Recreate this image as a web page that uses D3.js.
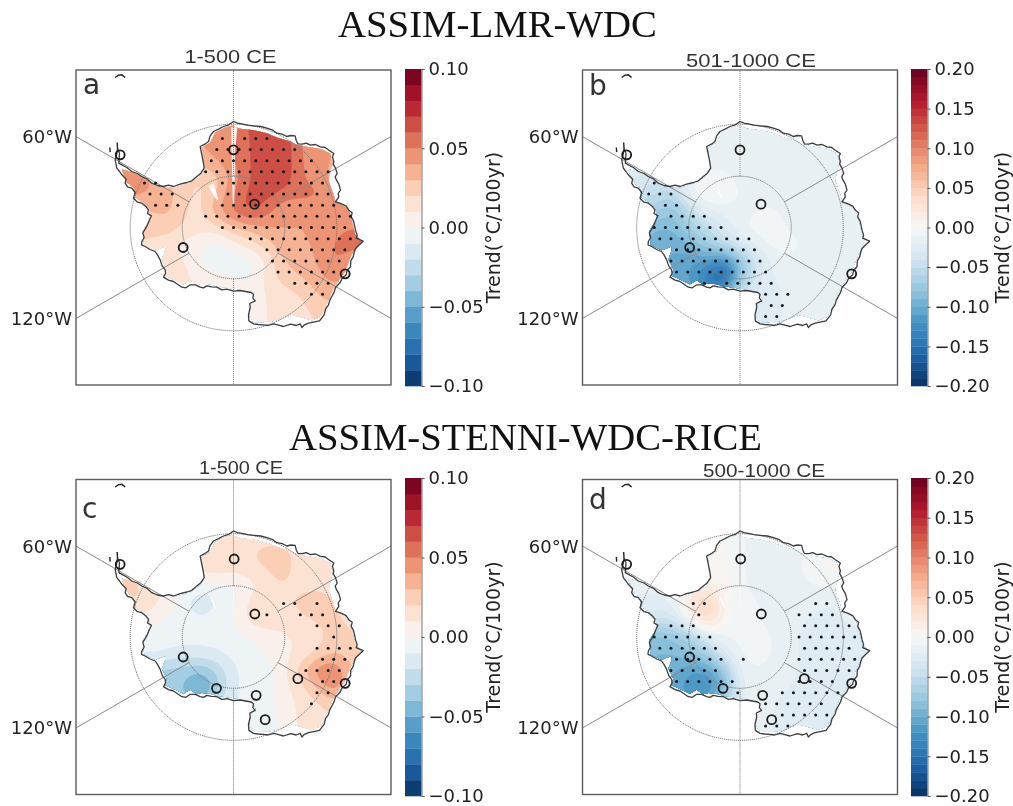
<!DOCTYPE html>
<meta charset="utf-8">
<style>
  body { margin: 0; background: #fff; }
  svg { display: block; filter: blur(0.35px); }
</style>
<body>
<script src="https://d3js.org/d3.v7.min.js" charset="utf-8"></script>
<script>
// map units: 1 unit = 1/3 px, origin at the south pole, y grows downward
var coast = [[0,-318],[12,-313],[25,-311],[42,-307],[60,-305],[82,-303],[100,-298],[118,-292],[130,-283],[146,-280],[160,-273],[172,-276],[185,-275],[188,-262],[193,-251],[206,-250],[218,-253],[231,-247],[246,-249],[261,-242],[275,-240],[286,-232],[301,-222],[297,-212],[301,-198],[299,-190],[306,-178],[311,-162],[305,-152],[309,-142],[316,-130],[321,-112],[314,-102],[316,-92],[306,-77],[316,-74],[326,-70],[338,-64],[346,-52],[356,-44],[353,-32],[360,-20],[363,-7],[366,8],[371,23],[368,32],[389,41],[381,49],[376,53],[366,63],[362,75],[359,88],[352,100],[351,118],[341,128],[338,142],[326,152],[320,165],[306,180],[302,194],[295,207],[289,218],[285,232],[276,245],[272,262],[258,280],[240,284],[225,287],[213,292],[205,300],[200,289],[188,294],[172,290],[150,297],[135,293],[120,289],[104,294],[90,292],[74,291],[60,289],[46,280],[45,262],[50,240],[49,228],[65,220],[58,212],[60,200],[53,195],[36,192],[20,189],[0,191],[-20,185],[-35,187],[-50,179],[-66,178],[-80,175],[-90,181],[-100,179],[-115,172],[-130,172],[-143,181],[-155,179],[-168,170],[-180,162],[-195,158],[-210,149],[-204,138],[-205,127],[-214,115],[-220,97],[-228,82],[-235,72],[-250,66],[-265,57],[-276,52],[-275,42],[-268,30],[-272,16],[-265,5],[-258,-8],[-252,-23],[-246,-35],[-258,-42],[-255,-53],[-262,-62],[-275,-73],[-288,-76],[-300,-88],[-295,-105],[-305,-118],[-318,-122],[-325,-133],[-322,-145],[-335,-158],[-342,-168],[-350,-178],[-355,-203],[-350,-222],[-348,-238],[-342,-223],[-344,-193],[-335,-188],[-320,-180],[-305,-168],[-288,-162],[-275,-153],[-258,-145],[-245,-133],[-228,-126],[-210,-123],[-195,-127],[-180,-123],[-160,-130],[-140,-135],[-125,-140],[-110,-153],[-98,-163],[-88,-178],[-91,-198],[-95,-218],[-100,-243],[-86,-250],[-75,-258],[-70,-275],[-60,-288],[-45,-295],[-30,-303],[-14,-308]];
var dataEdge = [[-5,-305],[20,-296],[60,-292],[100,-283],[130,-270],[170,-258],[185,-250],[215,-243],[265,-235],[290,-222],[298,-195],[290,-165],[285,-140],[300,-100],[305,-80],[345,-55],[355,-20],[365,20],[385,42],[372,57],[355,80],[345,105],[335,132],[315,160],[300,182],[290,207],[275,240],[262,268],[235,278],[205,270],[175,262],[140,275],[110,283],[60,285],[48,265],[53,232],[68,217],[58,195],[20,186],[-50,176],[-70,170],[-95,168],[-110,172],[-130,158],[-150,170],[-175,158],[-205,145],[-200,125],[-215,95],[-205,70],[-205,57],[-235,68],[-268,52],[-272,10],[-250,-25],[-252,-55],[-272,-75],[-295,-90],[-300,-120],[-320,-135],[-330,-160],[-335,-175],[-300,-165],[-270,-150],[-240,-130],[-205,-120],[-175,-120],[-135,-132],[-105,-150],[-85,-175],[-92,-215],[-95,-240],[-70,-255],[-55,-285],[-25,-300]];
var islands = [[[-355,-450],[-345,-457],[-335,-458],[-325,-450]],[[-371,-240],[-370,-226]],[[-348,-238],[-349,-255]]];

var sitesTop = [[-340,-218],[0,-233],[63,-70],[-151,60],[335,139]];
var sitesBottom = [[-340,-218],[2,-234],[64,-69],[-151,60],[335,139],[193,125],[68,175],[95,248],[-51,154]];

// trend grids, hundredths of a degC per 100 yr
// columns x = -400..450 step 50, rows y = -350..350 step 50
var trendA = [
[3,3,3,3,3,3,4,4,4.5,6.5,6.5,6.5,5,4,4,4,3,3],
[3,3,3,3,3,3,4,4,4.5,6.5,6.5,6.5,5,4,4,4,3,3],
[3,3,3,3,3,4,4,4.5,5,6,7,7,5,4,4,4,3,3],
[4,4,3,3,3,3,3.5,4,5,6,7,7,5,4.5,4,3,3,3],
[5,5,5.5,4,3,2,2,2.5,4.5,6,7,7,5,4.5,3.5,3,3,3],
[4,4,4,4,3.5,2.5,1.5,3,5,6.5,6.5,5.5,5.5,5.5,4,4,3,3],
[3,3,3,3,3.5,2,1.5,4,5.5,6.5,5.5,4,4,4,4,4,4,4],
[2,2,2,2,2.5,2,1.5,1.5,3,3.5,4,4,4,4,4.5,5,5,5],
[2,2,2,2,1.5,.5,0,-.5,.5,1.5,2.5,4,4,4,5,6,5,5],
[2,2,2,2,2,1,0,-1,-.5,-.5,1,3,3.5,4,5.5,4,4,4],
[2,2,2,1.5,1.5,1.5,.5,.5,0,-.5,1.5,2.5,3,3.5,4.5,4,4,4],
[1,1,1,1,1,1,1,1,.5,.5,1,1.5,2,3,3.5,3,3,3],
[1,1,1,1,1,1,1,1,1,1,1,1,1.5,2.5,2.5,2,2,2],
[1,1,1,1,1,1,1,1,1,1,1,1,1,2,2,2,2,2],
[1,1,1,1,1,1,1,1,1,1,1,1,1,2,2,2,2,2]];
var trendB = [
[-1.5,-1.5,-1.5,-1.5,-1.5,-1.5,-1.5,-1.5,-1.5,-1.5,-1.5,-1.5,-1.5,-1.5,-1.5,-1.5,-1.5,-1.5],
[-1.5,-1.5,-1.5,-1.5,-1.5,-1.5,-1.5,-1.5,-1.5,-1.5,-1.5,-1.5,-1.5,-1.5,-1.5,-1.5,-1.5,-1.5],
[-1.5,-1.5,-1.5,-1.5,-1.5,-1.5,-2,-2,-1.5,-1.5,-1.5,-1.5,-1.5,-1.5,-1.5,-1.5,-1.5,-1.5],
[-2,-2,-2,-2,-2,-1.5,-1.5,-1.5,-1.5,-1.5,-1.5,-1.5,-1.5,-1.5,-1.5,-1.5,-1.5,-1.5],
[-3,-3,-3,-4,-3,-1,-.5,-.5,-1.5,-1.5,-1.5,-1.5,-1.5,-1.5,-1.5,-1.5,-1.5,-1.5],
[-4,-4,-4,-5,-6,-1,.5,0,-1,-1.5,-1.5,-1.5,-1.5,-1.5,-1.5,-1.5,-1.5,-1.5],
[-6,-6,-6,-7,-8,-5,-2,-1.5,-1.5,-1,-.7,-1.5,-1.5,-1.5,-1.5,-1.5,-1.5,-1.5],
[-8,-8,-8,-9,-9,-7,-5,-3,-1,-.5,-.5,-1.2,-1.5,-1.5,-1.5,-1.5,-1.5,-1.5],
[-9,-9,-9,-10,-10,-9,-7,-5,-3,-1.5,-.5,-.5,-1.2,-1.5,-1.5,-1.5,-1.5,-1.5],
[-10,-10,-10,-10,-10,-11,-11,-13,-8,-4,-1.5,-1.2,-1.5,-1.5,-1.5,-1.5,-1.5,-1.5],
[-9,-9,-9,-9,-10,-11,-14,-18,-8,-3,-2,-1.5,-1.5,-1.5,-1.5,-1.5,-1.5,-1.5],
[-9,-9,-9,-9,-10,-10,-12,-10,-3,-3,-2.5,-1.5,-1.5,-1.5,-1.5,-1.5,-1.5,-1.5],
[-8,-8,-8,-8,-8,-8,-8,-5,-3,-3,-2.5,-1.5,-1.5,-1.5,-1.5,-1.5,-1.5,-1.5],
[-5,-5,-5,-5,-5,-5,-5,-4,-3,-3,-2.5,-1.5,-1.5,-1.5,-1.5,-1.5,-1.5,-1.5],
[-5,-5,-5,-5,-5,-5,-5,-4,-3,-3,-2.5,-1.5,-1.5,-1.5,-1.5,-1.5,-1.5,-1.5]];
var trendC = [
[1.5,1.5,1.5,1.5,1.5,1.5,1.5,1.5,1.5,1.5,1.5,1.5,1.5,1.5,1.5,1.5,1.5,1.5],
[1.5,1.5,1.5,1.5,1.5,1.5,1.5,1.5,1.5,1.5,1.5,1.5,1.5,1.5,1.5,1.5,1.5,1.5],
[1.5,1.5,1.5,1.5,1.5,1.5,1.5,1.7,1.5,2,2.5,2.5,1.5,1.5,1.5,1.5,1.5,1.5],
[2,2,1.5,1.5,1.5,1.5,1.3,1.7,1.3,1.5,2,2.5,1.5,1.5,1.5,1.5,1.5,1.5],
[2.5,2.5,2.5,1.5,1,0,-.5,-.5,-.5,.5,1.5,2,1.5,1.5,1.5,1.5,1.5,1.5],
[2,2,2,1.5,.5,-.5,-2.5,-.8,-.3,1.5,2,1.5,2.5,3.5,2,1.5,1.5,1.5],
[.5,.5,.5,.5,-.3,-.3,-.5,-.5,0,1.5,1.5,1,1.5,2,2.5,1.5,1,1],
[-.5,-.5,-.5,-.5,-.5,-.5,-.7,-.7,-.5,0,.7,1,1,1.5,2.5,2.5,2,2],
[-1,-1,-1,-.7,-1,-1.5,-1.2,-1,-.7,-.5,0,.7,1.2,2,3,2.5,2,2],
[-2.5,-2.5,-2.5,-3,-3.5,-3.5,-4,-3,-1,-.7,-.5,.7,2.5,5,5.5,3,3,3],
[-3.5,-3.5,-3.5,-3.5,-3.5,-4,-6,-3.5,-1,-.7,-.5,.7,1.5,3,5,3,3,3],
[-3.5,-3.5,-3.5,-3.5,-3.5,-3.5,-4,-2,-1,-.7,-.5,.5,1.2,1.7,2.5,2,2,2],
[-1,-1,-1,-1,-1,-1,-1,-1,-1,-.7,-.5,.3,1.2,1.7,1.7,1.5,1.5,1.5],
[-.5,-.5,-.5,-.5,-.5,-.5,-.5,-.5,-.5,-.5,-.5,.3,1.2,1.7,1.7,1.5,1.5,1.5],
[-.5,-.5,-.5,-.5,-.5,-.5,-.5,-.5,-.5,-.5,-.5,.3,1.2,1.7,1.7,1.5,1.5,1.5]];
var trendD = [
[-.5,-.5,-.5,-.5,-.5,-.5,0,.3,-1,-1.2,-1.2,-1.2,-1,0,.3,.3,.3,.3],
[-.5,-.5,-.5,-.5,-.5,-.5,0,.3,-1,-1.2,-1.2,-1.2,-1,0,.3,.3,.3,.3],
[-.5,-.5,-.5,-.5,-.5,-.5,0,.3,-1,-1.2,-1.2,-1.2,-1,0,.3,.3,.3,.3],
[-1,-1,-1,-1,-.5,0,.5,.7,-1,-1.2,-1.2,-1.2,-1,.3,.3,.3,.3,.3],
[-1.5,-1.5,-1.5,-2,-1,2.5,1,.7,-1,-1.2,-1.2,-1.2,-1.2,-1,-1,-1,-1,-1],
[-2,-2,-2,-2.5,-2,2.5,5.5,1,-.5,-1,-1.2,-1.2,-1.5,-2,-2,-2,-2,-2],
[-3,-3,-3,-4,-4,0,4.5,.5,-.5,-1,-1.2,-1.5,-2,-2.5,-2,-1.5,-1.5,-1.5],
[-8,-8,-8,-9,-8,-7,-3,-1,-.7,-.7,-1,-1.5,-2.5,-2.5,-2.5,-2.5,-2.5,-2.5],
[-9,-9,-9,-9,-9,-8,-7,-3,-.7,-.7,-1,-1.5,-2.5,-2.5,-2.5,-2.5,-2.5,-2.5],
[-9,-9,-9,-9,-10,-11,-11,-8,-1.5,-1,-1.2,-1.5,-2.5,-2.5,-3,-3,-3,-3],
[-10,-10,-10,-10,-10,-12,-13,-10,-2,-1.2,-1.5,-2,-2.5,-2.5,-2.5,-2.5,-2.5,-2.5],
[-10,-10,-10,-10,-10,-11,-10,-6,-1.5,-1.5,-2,-2.5,-2.5,-2.5,-2,-2,-2,-2],
[-8,-8,-8,-8,-8,-8,-8,-4,-1.5,-1.5,-2,-2.5,-2,-2,-2,-2,-2,-2],
[-5,-5,-5,-5,-5,-5,-5,-3,-1.5,-1.5,-2,-2.5,-2,-2,-2,-2,-2,-2],
[-5,-5,-5,-5,-5,-5,-5,-3,-1.5,-1.5,-2,-2.5,-2,-2,-2,-2,-2,-2]];

// significant cells as runs: [row, first column, last column]
var stippleA = [[-8,-1,-1],[-8,1,3],[-7,-2,5],[-6,-2,7],[-5,-3,8],[-4,-8,-7],[-4,-1,8],[-3,-8,-6],[-3,-1,8],[-2,-7,-5],[-2,-1,9],[-1,-3,10],[0,-1,10],[1,1,10],[2,3,10],[3,3,9],[4,4,9],[5,5,8],[6,7,8]];
var stippleB = [[-4,-8,-8],[-3,-9,-7],[-2,-7,-6],[-1,-7,-4],[0,-8,-2],[1,-8,0],[2,-6,1],[3,-7,1],[4,-6,2],[5,-4,-4],[5,-2,2],[6,2,4],[7,2,3],[8,2,3]];
var stippleC = [[-3,4,5],[-3,7,7],[-2,3,3],[-2,6,8],[-1,7,9],[0,9,9],[1,7,10],[2,8,10],[3,6,9],[4,8,9],[5,7,8],[6,7,7]];
var stippleD = [[-3,-5,-4],[-3,6,7],[-2,-4,-4],[-2,5,8],[-1,-7,-5],[-1,5,9],[0,-8,-3],[0,5,10],[1,-8,-3],[1,5,9],[2,-6,-2],[2,0,0],[2,5,10],[3,-7,-3],[3,5,9],[4,-6,-1],[4,5,8],[5,-1,-1],[5,3,8],[6,2,7],[7,3,7],[8,2,4]];

var seamsA = [[[-7,-301],[12,-301],[5,-233],[2,-63],[-2,-63],[-6,-233]],[[-75,-123],[-60,-133],[-45,-85],[-50,-81]]];
var seamsB = [[[-2,-297],[3,-297],[1,-162],[-1,-162]],[[-70,-118],[-66,-120],[-52,-85],[-55,-84]]];
var seamsC = [[[-1,-153],[2,-153],[1,-75],[0,-75]],[[-70,-118],[-66,-120],[-52,-85],[-55,-84]]];
var seamsD = [[[-3,-297],[3,-297],[1,-280],[-1,-280]],[[-1,-160],[2,-160],[1,-90],[0,-90]],[[-62,-120],[-56,-122],[-45,-90],[-49,-88]]];

var ringLats = [-70, -80];
var meridians = [0, 60, 120, 180, -120, -60];
var lonLabels = [["60°W", -60], ["120°W", -120]];

var panels = [
  {id: "a", sub: "1-500 CE", trend: trendA, stipple: stippleA, sites: sitesTop, seams: seamsA, max: 10, left: 76, top: 70, cbTop: 69, cbBottom: 386, cbLeft: 405, subX: 230.5, subY: 63, subW: 92, lblX: 83, lblY: 94, shift: 0, cbLabelX: 493},
  {id: "b", sub: "501-1000 CE", trend: trendB, stipple: stippleB, sites: sitesTop, seams: seamsB, max: 20, left: 582.5, top: 70, cbTop: 69, cbBottom: 386, cbLeft: 911, subX: 751, subY: 67, subW: 130, lblX: 589, lblY: 95, shift: 10, cbLabelX: 1002},
  {id: "c", sub: "1-500 CE", trend: trendC, stipple: stippleC, sites: sitesBottom, seams: seamsC, max: 10, left: 76, top: 479.5, cbTop: 478, cbBottom: 796, cbLeft: 405, subX: 241, subY: 474, subW: 84, lblX: 82, lblY: 518, shift: 0, cbLabelX: 493},
  {id: "d", sub: "500-1000 CE", trend: trendD, stipple: stippleD, sites: sitesBottom, seams: seamsD, max: 20, left: 582.5, top: 479.5, cbTop: 478, cbBottom: 796, cbLeft: 911, subX: 764, subY: 477, subW: 122, lblX: 589, lblY: 509, shift: 10, cbLabelX: 1002}
];

var boxSize = 315, halfUnits = 472.5;
var cellStep = 33.4;
var gridXs = d3.range(-400, 451, 50), gridYs = d3.range(-350, 351, 50);
var upsample = 5;

// matplotlib's RdBu_r is the 11 step brewer ramp, stretched linearly
var rdbu = d3.scaleLinear()
  .domain(d3.range(11).map(function(i) { return -1 + i * 0.2; }))
  .range(d3.schemeRdBu[11].slice().reverse());

var svg = d3.select("body").append("svg").attr("width", 1013).attr("height", 806);

function title(text, x, y, len) {
  svg.append("text").attr("x", x).attr("y", y)
    .attr("text-anchor", "middle")
    .attr("textLength", len).attr("lengthAdjust", "spacingAndGlyphs")
    .style("font-family", "'Liberation Serif'").style("font-size", "38px").style("fill", "#111")
    .text(text);
}
title("ASSIM-LMR-WDC", 497.5, 37, 319);
title("ASSIM-STENNI-WDC-RICE", 525.5, 450, 473);

// bilinear upsample then blur, so the contour bands come out round
function fineField(rows) {
  var nx = (gridXs.length - 1) * upsample + 1, ny = (gridYs.length - 1) * upsample + 1;
  var out = new Float64Array(nx * ny);
  for (var j = 0; j < ny; j++) {
    for (var i = 0; i < nx; i++) {
      var gx = i / upsample, gy = j / upsample;
      var x0 = Math.min(Math.floor(gx), gridXs.length - 2), y0 = Math.min(Math.floor(gy), gridYs.length - 2);
      var fx = gx - x0, fy = gy - y0;
      out[j * nx + i] = rows[y0][x0] * (1 - fx) * (1 - fy) + rows[y0][x0 + 1] * fx * (1 - fy)
        + rows[y0 + 1][x0] * (1 - fx) * fy + rows[y0 + 1][x0 + 1] * fx * fy;
    }
  }
  d3.blur2({data: out, width: nx, height: ny}, 1.5);
  return {values: out, nx: nx, ny: ny};
}

panels.forEach(function(p) {
  var sx = d3.scaleLinear().domain([-halfUnits, halfUnits]).range([p.left, p.left + boxSize]);
  var sy = d3.scaleLinear().domain([-halfUnits, halfUnits]).range([p.top, p.top + boxSize]);
  var line = d3.line().x(function(d) { return sx(d[0]); }).y(function(d) { return sy(d[1]); });
  var ring = d3.line().x(function(d) { return sx(d[0]); }).y(function(d) { return sy(d[1]); }).curve(d3.curveLinearClosed);
  var g = svg.append("g").attr("class", "panel-" + p.id);

  g.append("clipPath").attr("id", "edge-" + p.id).append("path").attr("d", ring(dataEdge));

  // filled contours
  var field = fineField(p.trend);
  var levels = d3.range(-p.max, p.max, 1);
  var contours = d3.contours().size([field.nx, field.ny]).smooth(true).thresholds(levels)(field.values);
  var toMap = d3.geoPath(d3.geoTransform({
    point: function(u, v) {
      this.stream.point(sx(gridXs[0] + (u - 0.5) / upsample * 50), sy(gridYs[0] + (v - 0.5) / upsample * 50));
    }
  }));
  g.append("g").attr("clip-path", "url(#edge-" + p.id + ")")
    .selectAll("path").data(contours).enter().append("path")
    .attr("d", toMap)
    .attr("fill", function(d) { return rdbu((d.value + 0.5) / p.max); });

  g.selectAll("path.seam").data(p.seams).enter().append("path")
    .attr("class", "seam").attr("d", ring).attr("fill", "#fff").attr("opacity", 0.85);

  // graticule
  var cx = p.left + boxSize / 2, cy = p.top + boxSize / 2;
  var projection = d3.geoStereographic().rotate([0, 90]).scale(586)
    .translate([cx, cy]).clipExtent([[p.left, p.top], [p.left + boxSize, p.top + boxSize]]);
  var geo = d3.geoPath(projection);
  meridians.forEach(function(lon) {
    g.append("path")
      .datum({type: "LineString", coordinates: [[lon, -80], [lon, -45]]})
      .attr("d", geo).attr("fill", "none").attr("stroke", "#8a8a8a").attr("stroke-width", 1)
      .attr("stroke-dasharray", Math.abs(lon) % 180 === 0 ? "1.2,0.8" : null);
  });
  ringLats.forEach(function(lat) {
    g.append("path")
      .datum(d3.geoCircle().center([0, -90]).radius(90 + lat)())
      .attr("d", geo).attr("fill", "none").attr("stroke", "#7c7c7c").attr("stroke-width", 1)
      .attr("stroke-dasharray", "1.2,0.8");
  });

  // coast and islands
  g.append("path").attr("d", ring(coast)).attr("fill", "none")
    .attr("stroke", "#3d3d3d").attr("stroke-width", 1.3).attr("stroke-linejoin", "round");
  g.selectAll("path.island").data(islands).enter().append("path")
    .attr("class", "island").attr("d", line).attr("fill", "none")
    .attr("stroke", "#222").attr("stroke-width", 1.4);

  // stippling
  var dots = [];
  p.stipple.forEach(function(run) {
    d3.range(run[1], run[2] + 1).forEach(function(col) {
      dots.push([p.shift + col * cellStep + (Math.abs(run[0]) % 2 ? cellStep / 2 : 0), run[0] * cellStep]);
    });
  });
  g.selectAll("circle.dot").data(dots).enter().append("circle")
    .attr("class", "dot").attr("r", 1.5).attr("fill", "#15181f")
    .attr("cx", function(d) { return sx(d[0]); }).attr("cy", function(d) { return sy(d[1]); });

  // sites
  g.selectAll("circle.site").data(p.sites).enter().append("circle")
    .attr("class", "site").attr("r", 4.5).attr("fill", "none")
    .attr("stroke", "#1c1c1c").attr("stroke-width", 1.8)
    .attr("cx", function(d) { return sx(d[0]); }).attr("cy", function(d) { return sy(d[1]); });

  // frame
  g.append("rect").attr("x", p.left).attr("y", p.top).attr("width", boxSize).attr("height", boxSize)
    .attr("fill", "none").attr("stroke", "#5c5c5c").attr("stroke-width", 1.4);

  // text
  g.append("text").attr("x", p.lblX).attr("y", p.lblY)
    .style("font-family", "'DejaVu Sans'").style("font-size", "28px").style("fill", "#333").text(p.id);
  g.append("text").attr("x", p.subX).attr("y", p.subY).attr("text-anchor", "middle")
    .attr("textLength", p.subW).attr("lengthAdjust", "spacingAndGlyphs")
    .style("font-family", "'Liberation Sans'").style("font-size", "19px").style("fill", "#333").text(p.sub);
  lonLabels.forEach(function(d) {
    var q = projection([d[1], -80]);
    var edgeY = cy + (q[1] - cy) * (boxSize / 2) / (cx - q[0]);
    g.append("text").attr("x", p.left - 4).attr("y", edgeY).attr("dy", "0.36em").attr("text-anchor", "end")
      .style("font-family", "'DejaVu Sans'").style("font-size", "18px").style("fill", "#222").text(d[0]);
  });

  // colour bar
  var barW = 16.5;
  var cb = d3.scaleLinear().domain([-p.max / 100, p.max / 100]).range([p.cbBottom, p.cbTop]);
  g.selectAll("rect.band").data(levels).enter().append("rect")
    .attr("class", "band").attr("x", p.cbLeft).attr("width", barW)
    .attr("y", function(d) { return cb((d + 1) / 100); })
    .attr("height", function(d) { return cb(d / 100) - cb((d + 1) / 100) + 0.3; })
    .attr("fill", function(d) { return rdbu((d + 0.5) / p.max); });
  var axis = d3.axisRight(cb)
    .tickValues(d3.range(-p.max, p.max + 1, 5).map(function(v) { return v / 100; }))
    .tickSize(3).tickPadding(4).tickFormat(d3.format(".2f"));
  var ag = g.append("g").attr("transform", "translate(" + (p.cbLeft + barW) + ",0)").call(axis);
  ag.select(".domain").attr("stroke", "#777");
  ag.selectAll(".tick line").attr("stroke", "#555");
  ag.selectAll("text").style("font-family", "'DejaVu Sans'").style("font-size", "18px").style("fill", "#222");
  g.append("text")
    .attr("transform", "translate(" + p.cbLabelX + "," + (p.cbTop + p.cbBottom) / 2 + ") rotate(-90)")
    .attr("text-anchor", "middle").attr("dy", "0.36em")
    .style("font-family", "'DejaVu Sans'").style("font-size", "19px").style("fill", "#222")
    .text("Trend(°C/100yr)");
});
</script>
</body>
